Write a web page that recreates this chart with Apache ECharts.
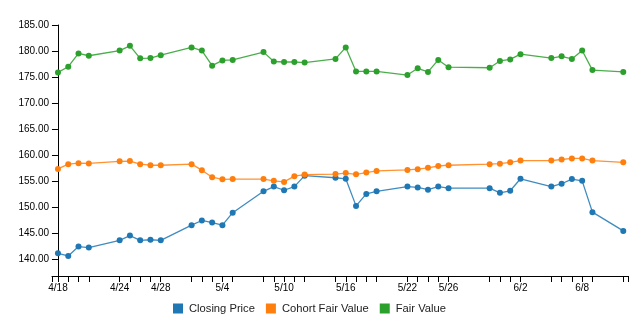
<!DOCTYPE html>
<html>
<head>
<meta charset="utf-8">
<style>html,body{margin:0;padding:0;background:#fff;}#chart{width:640px;height:326px;}</style>
<script src="https://cdn.jsdelivr.net/npm/echarts@6/dist/echarts.min.js"></script>
</head>
<body>
<div id="chart"></div>
<script>
const dates = ['2023-04-18','2023-04-19','2023-04-20','2023-04-21','2023-04-24','2023-04-25','2023-04-26','2023-04-27','2023-04-28',
  '2023-05-01','2023-05-02','2023-05-03','2023-05-04','2023-05-05','2023-05-08','2023-05-09','2023-05-10','2023-05-11','2023-05-12',
  '2023-05-15','2023-05-16','2023-05-17','2023-05-18','2023-05-19','2023-05-22','2023-05-23','2023-05-24','2023-05-25','2023-05-26',
  '2023-05-30','2023-05-31','2023-06-01','2023-06-02','2023-06-05','2023-06-06','2023-06-07','2023-06-08','2023-06-09','2023-06-12'];
const closingPrice = [141.2,140.7,142.5,142.3,143.7,144.6,143.7,143.8,143.7,
  146.6,147.5,147.1,146.6,149.0,153.1,154.0,153.3,154.0,156.1,
  155.7,155.5,150.3,152.6,153.1,154.0,153.85,153.4,154.0,153.7,
  153.7,152.8,153.2,155.5,154.0,154.55,155.45,155.1,149.1,145.5];
const cohortFairValue = [157.4,158.3,158.5,158.45,158.85,158.9,158.3,158.1,158.1,
  158.3,157.15,155.8,155.4,155.45,155.45,155.1,154.9,156.0,156.3,
  156.4,156.6,156.35,156.7,157.0,157.2,157.35,157.6,157.95,158.1,
  158.3,158.4,158.65,159.0,159.0,159.2,159.4,159.4,159.0,158.65];
const fairValue = [175.9,177.0,179.55,179.1,180.1,181.0,178.6,178.65,179.2,
  180.7,180.1,177.2,178.2,178.3,179.8,178.0,177.9,177.9,177.8,
  178.5,180.7,176.1,176.1,176.1,175.4,176.7,176.0,178.3,176.9,
  176.8,178.1,178.4,179.4,178.65,179.0,178.5,180.1,176.35,176.0];
const seriesNames = ['Closing Price','Cohort Fair Value','Fair Value'];
const yTicks = [140,145,150,155,160,165,170,175,180,185];

const DAY = 86400000;
const t0 = Date.parse(dates[0]);
const days = dates.map(d => Math.round((Date.parse(d) - t0) / DAY));
const xMin = -0.58, xMax = 55.46;
const labelDays = days.filter((d, i) => i % 4 === 0);
function fmtDay(v) {
  const dt = new Date(t0 + Math.round(v) * DAY);
  return (dt.getUTCMonth() + 1) + '/' + dt.getUTCDate();
}
const pairs = arr => arr.map((v, i) => [days[i], v]);
const colors = ['#1f77b4', '#ff7f0e', '#2ca02c'];
const font = 'Liberation Sans, Arial, sans-serif';

const chart = echarts.init(document.getElementById('chart'));
chart.setOption({
  animation: false,
  color: colors,
  grid: { left: 52, right: 12, top: 25, bottom: 50, containLabel: false },
  legend: {
    data: seriesNames.map(n => ({ name: n, icon: 'rect' })),
    left: 168, top: 298,
    itemWidth: 10, itemHeight: 10, itemGap: 11,
    textStyle: { fontFamily: font, fontSize: 11.2, color: '#222', padding: [0, 0, 0, 1] }
  },
  xAxis: {
    type: 'value', min: xMin, max: xMax,
    splitLine: { show: false },
    axisLine: { lineStyle: { color: '#000', width: 1 } },
    axisTick: { length: 6, lineStyle: { color: '#000' }, customValues: [xMin].concat(days, [xMax]) },
    axisLabel: { customValues: labelDays, formatter: fmtDay, margin: 7, fontFamily: font, fontSize: 10, color: '#000' }
  },
  yAxis: {
    type: 'value', min: 136.85, max: 185,
    splitLine: { show: false },
    axisLine: { show: true, lineStyle: { color: '#000', width: 1 } },
    axisTick: { show: true, length: 6, lineStyle: { color: '#000' }, customValues: yTicks },
    axisLabel: { customValues: yTicks, formatter: v => v.toFixed(2), margin: 3, fontFamily: font, fontSize: 10, color: '#000' }
  },
  series: [closingPrice, cohortFairValue, fairValue].map((arr, i) => ({
    name: seriesNames[i], type: 'line', data: pairs(arr),
    symbol: 'circle', symbolSize: 6, showSymbol: true,
    lineStyle: { width: 1.3, opacity: 0.85 },
    itemStyle: { color: colors[i] },
    emphasis: { disabled: true }
  }))
});
</script>
</body>
</html>
